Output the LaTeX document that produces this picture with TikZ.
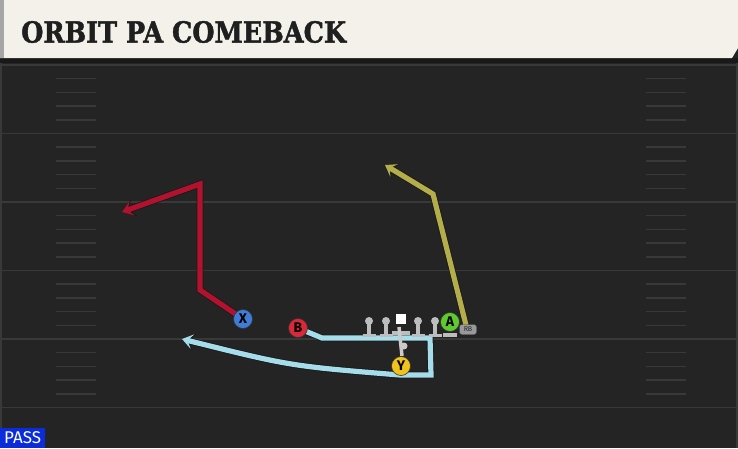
\documentclass[tikz,border=0pt]{standalone}
\usepackage{fontspec}
\usetikzlibrary{arrows.meta}
\newfontfamily\titlefont[BoldFeatures={FakeBold=1.6}]{DejaVu Serif}
\newfontfamily\labelfont{Fira Sans}
\definecolor{turf}{HTML}{242424}
\definecolor{chalk}{HTML}{393939}
\definecolor{cream}{HTML}{F4F1EA}
\definecolor{crimson}{HTML}{B3122F}
\definecolor{olive}{HTML}{B3AE4A}
\definecolor{sky}{HTML}{A6DDEA}
\definecolor{xblue}{HTML}{3F7CD8}
\definecolor{bred}{HTML}{D9283A}
\definecolor{agreen}{HTML}{5DCB2D}
\definecolor{ygold}{HTML}{F1C21C}
\definecolor{pingrey}{HTML}{BDBDBD}
\definecolor{passblue}{HTML}{0B2CDB}
\tikzset{>={Stealth[length=4pt 1.3,width=6pt 1.7,inset=2pt 0.6]},route/.style={->,line width=5.2pt,line join=miter,preaction={draw=black!90,line width=6.8pt}},player/.style={circle,draw=black!80,line width=0.6pt,minimum size=19pt,inner sep=0pt,font=\labelfont\bfseries\fontsize{14}{14}\selectfont},hash/.style={chalk,line width=1.5pt},yardline/.style={chalk,line width=1.8pt},stance/.style={pingrey,line width=3.8pt}}

\begin{document}
\begin{tikzpicture}[x=1pt,y=-1pt]
\fill[turf] (0,0) rectangle (738,448);
\useasboundingbox (0,0) rectangle (738,448);
% field
\foreach \k in {0,...,5} \draw[yardline] (0,65+68.5*\k) -- (738,65+68.5*\k);
\foreach \k in {0,...,4} \foreach \j in {1,...,4} {\draw[hash] (56,65+68.5*\k+13.7*\j) -- (96,65+68.5*\k+13.7*\j); \draw[hash] (646,65+68.5*\k+13.7*\j) -- (686,65+68.5*\k+13.7*\j);}
\draw[chalk,line width=1.5pt] (1,63) -- (1,448) (737,63) -- (737,448);
% header
\fill[black!90] (0,58) rectangle (738,63);
\fill[cream] (0,0) -- (738,0) -- (738,48) -- (732,58) -- (0,58) -- cycle;
\fill[black!35] (0,0) rectangle (4,58);
\node[anchor=west,inner sep=0pt,font=\titlefont\bfseries\fontsize{29}{29}\selectfont,text=black!88] (title) at (21,32) {\scalebox{0.88}[1]{ORBIT PA COMEBACK}};
% routes
\coordinate (xspot) at (243,319);
\coordinate (bspot) at (298,328);
\coordinate (rbspot) at (466,325);
\draw[route,crimson] (xspot) -- (200,290) -- (200,184) -- (122,212);
\draw[route,olive] (rbspot) -- (433,194) -- (385,165);
\draw[route,sky] (bspot) -- (322,338) -- (430,338) -- (431,375) -- (400,375) .. controls (290,366) .. (182,339);
% line
\foreach \x in {369,386,418,435} {\fill[pingrey] (\x,321) circle (4pt); \draw[stance] (\x,323) -- (\x,334); \draw[stance] (\x-6.5,335.5) -- (\x+6.5,335.5);}
\draw[stance] (392,333) -- (410,333);
\draw[pingrey!80,line width=3.5pt] (399,327) -- (402,356);
\fill[pingrey!80] (404,346) circle (3.5pt);
\fill[white] (396,313.5) rectangle (406,323.5);
\draw[stance] (443,335) -- (457,335);
% players
\node[player,fill=xblue] (X) at (xspot) {X};
\node[player,fill=bred] (B) at (bspot) {B};
\node[player,fill=agreen] (A) at (450,322) {A};
\node[player,fill=ygold] (Y) at (401,366) {Y};
\node[fill=black!40,draw=black!70,line width=0.4pt,rounded corners=2.5pt,minimum width=17pt,minimum height=10pt,inner sep=0pt,font=\labelfont\fontsize{7}{7}\selectfont,text=black!85] (RB) at (468,329.5) {RB};
% tag
\node[fill=passblue,anchor=south west,minimum width=45pt,minimum height=20pt,inner sep=0pt,font=\labelfont\fontsize{17}{17}\selectfont,text=white] (pass) at (0,448) {PASS};
\end{tikzpicture}
\end{document}
